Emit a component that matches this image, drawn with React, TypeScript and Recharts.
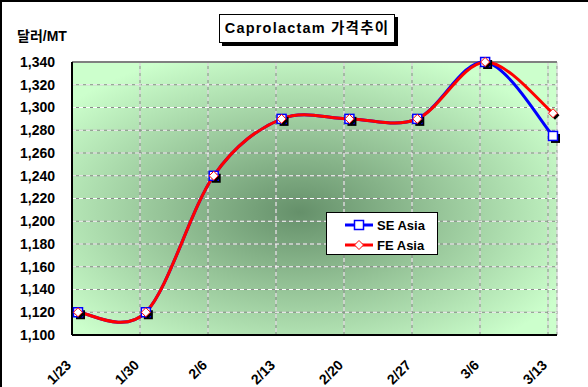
import { LineChart, Line, XAxis, YAxis, CartesianGrid, ReferenceLine } from 'recharts';

const dates = ['1/23', '1/30', '2/6', '2/13', '2/20', '2/27', '3/6', '3/13'];
const seAsia = [1120, 1120, 1240, 1290, 1290, 1290, 1340, 1275];
const feAsia = [1120, 1120, 1240, 1290, 1290, 1290, 1340, 1295];
const yTicks = [1100, 1120, 1140, 1160, 1180, 1200, 1220, 1240, 1260, 1280, 1300, 1320, 1340];

const data = dates.map((d, i) => ({ date: d, se: seAsia[i], fe: feAsia[i] }));

const FONT = '"Liberation Sans", Arial, "Noto Sans CJK KR", sans-serif';

// excel-style smoothing (catmull-rom, 1/6 tangents)
const excelSmooth = (ctx: any) => {
  let pts: number[][] = [];
  return {
    areaStart() {},
    areaEnd() {},
    lineStart() {
      pts = [];
    },
    point(x: number, y: number) {
      pts.push([+x, +y]);
    },
    lineEnd() {
      const n = pts.length;
      if (!n) return;
      ctx.moveTo(pts[0][0], pts[0][1]);
      for (let i = 0; i < n - 1; i++) {
        const a = pts[Math.max(i - 1, 0)];
        const b = pts[i];
        const c = pts[i + 1];
        const d = pts[Math.min(i + 2, n - 1)];
        ctx.bezierCurveTo(
          b[0] + (c[0] - a[0]) / 6,
          b[1] + (c[1] - a[1]) / 6,
          c[0] - (d[0] - b[0]) / 6,
          c[1] - (d[1] - b[1]) / 6,
          c[0],
          c[1]
        );
      }
    },
  };
};

const SquareDot = (props: any) => {
  const { cx, cy, index } = props;
  return (
    <g key={`sq-${index}`}>
      <rect x={cx - 2} y={cy - 2} width={9} height={9} fill="#000" />
      <rect x={cx - 4.5} y={cy - 4.5} width={9} height={9} fill="#fff" stroke="#0000ff" strokeWidth={1.5} />
    </g>
  );
};

const diamond = (cx: number, cy: number, r: number) =>
  `M${cx},${cy - r} L${cx + r},${cy} L${cx},${cy + r} L${cx - r},${cy} Z`;

const DiamondDot = (props: any) => {
  const { cx, cy, index } = props;
  return (
    <g key={`dm-${index}`}>
      <path d={diamond(cx + 2, cy + 2, 4.5)} fill="#000" />
      <path d={diamond(cx, cy, 4.5)} fill="#fff" stroke="#ff0000" strokeWidth={1} />
    </g>
  );
};

const XTick = (props: any) => {
  const { x, y, payload } = props;
  const ty = y + 31;
  return (
    <text
      x={x}
      y={ty}
      transform={`rotate(-45 ${x} ${ty})`}
      textAnchor="end"
      fontFamily={FONT}
      fontWeight="bold"
      fontSize={14}
      fill="#000"
    >
      {payload.value}
    </text>
  );
};

export default function App() {
  return (
    <div style={{ position: 'absolute', left: 0, top: 0, width: 588, height: 387, background: '#fff', fontFamily: FONT }}>
      <LineChart width={588} height={387} data={data} margin={{ top: 62, right: 31, left: 0, bottom: 0 }}>
        <defs>
          <radialGradient id="plotBg" cx="0.47" cy="0.55" r="0.62">
            <stop offset="0" stopColor="#65906a" />
            <stop offset="0.45" stopColor="#95c397" />
            <stop offset="1" stopColor="#ccffcc" />
          </radialGradient>
        </defs>
        <XAxis xAxisId="d" dataKey="date" hide height={0} padding={{ left: 6, right: 4 }} />
        <XAxis
          xAxisId="g"
          dataKey="date"
          height={52}
          padding={{ left: 0, right: 9 }}
          tickLine={false}
          tickSize={0}
          tickMargin={0}
          axisLine={{ stroke: '#000', strokeWidth: 2 }}
          tick={<XTick />}
          interval={0}
        />
        <YAxis
          yAxisId="l"
          width={72}
          domain={[1100, 1340]}
          ticks={yTicks}
          interval={0}
          tickLine={false}
          tickSize={6}
          tickMargin={11}
          axisLine={{ stroke: '#000', strokeWidth: 2 }}
          tickFormatter={(v: number) => v.toLocaleString('en-US')}
          tick={{ fill: '#000', fontSize: 14, fontWeight: 'bold', fontFamily: FONT }}
        />
        <YAxis
          yAxisId="r"
          orientation="right"
          width={0}
          domain={[1100, 1340]}
          tick={false}
          tickLine={false}
          axisLine={{ stroke: '#808080', strokeWidth: 2 }}
        />
        <CartesianGrid xAxisId="g" yAxisId="l" fill="url(#plotBg)" fillOpacity={1} stroke="#8a8a8a" strokeWidth={1} />
        <CartesianGrid xAxisId="g" yAxisId="l" stroke="#ffffff" strokeWidth={1} strokeDasharray="4 3" />
        <ReferenceLine xAxisId="g" yAxisId="l" y={1340} stroke="#808080" strokeWidth={2} />
        <Line
          xAxisId="d"
          yAxisId="l"
          dataKey="se"
          type={excelSmooth as any}
          stroke="#0000ff"
          strokeWidth={3}
          dot={SquareDot}
          activeDot={false}
          isAnimationActive={false}
        />
        <Line
          xAxisId="d"
          yAxisId="l"
          dataKey="fe"
          type={excelSmooth as any}
          stroke="#ff0000"
          strokeWidth={3}
          dot={DiamondDot}
          activeDot={false}
          isAnimationActive={false}
        />
      </LineChart>

      {/* frame, top + left only */}
      <div style={{ position: 'absolute', left: 0, top: 0, width: 588, height: 387, boxSizing: 'border-box', borderTop: '2px solid #000', borderLeft: '2px solid #000', pointerEvents: 'none' }} />

      {/* y unit */}
      <div style={{ position: 'absolute', left: 17, top: 25, fontSize: 14, fontWeight: 'bold', color: '#000' }}>달러/MT</div>

      {/* title */}
      <div
        style={{
          position: 'absolute',
          left: 219,
          top: 14,
          width: 176,
          height: 29,
          boxSizing: 'border-box',
          border: '1px solid #000',
          boxShadow: '3px 3px 0 #000',
          background: '#fff',
          fontSize: 14.5,
          fontWeight: 'bold',
          letterSpacing: 1.2,
          lineHeight: '27px',
          textAlign: 'center',
          whiteSpace: 'nowrap',
        }}
      >
        Caprolactam 가격추이
      </div>

      {/* legend */}
      <div
        style={{
          position: 'absolute',
          left: 326,
          top: 212,
          width: 112,
          height: 43,
          boxSizing: 'border-box',
          border: '1px solid #000',
          background: '#fff',
        }}
      >
        {[
          { name: 'SE Asia', color: '#0000ff', shape: 'sq' },
          { name: 'FE Asia', color: '#ff0000', shape: 'dm' },
        ].map((item, i) => (
          <div key={item.name} style={{ position: 'absolute', left: 17, top: 3 + i * 20, height: 18, display: 'flex', alignItems: 'center' }}>
            <svg width={30} height={18}>
              <line x1={1} y1={9} x2={29} y2={9} stroke={item.color} strokeWidth={3} />
              {item.shape === 'sq' ? (
                <rect x={10.5} y={4.5} width={9} height={9} fill="#fff" stroke={item.color} strokeWidth={1.5} />
              ) : (
                <path d={diamond(15, 9, 4.5)} fill="#fff" stroke={item.color} strokeWidth={1} />
              )}
            </svg>
            <span style={{ marginLeft: 3, fontSize: 13, fontWeight: 'bold', color: '#000' }}>{item.name}</span>
          </div>
        ))}
      </div>
    </div>
  );
}
